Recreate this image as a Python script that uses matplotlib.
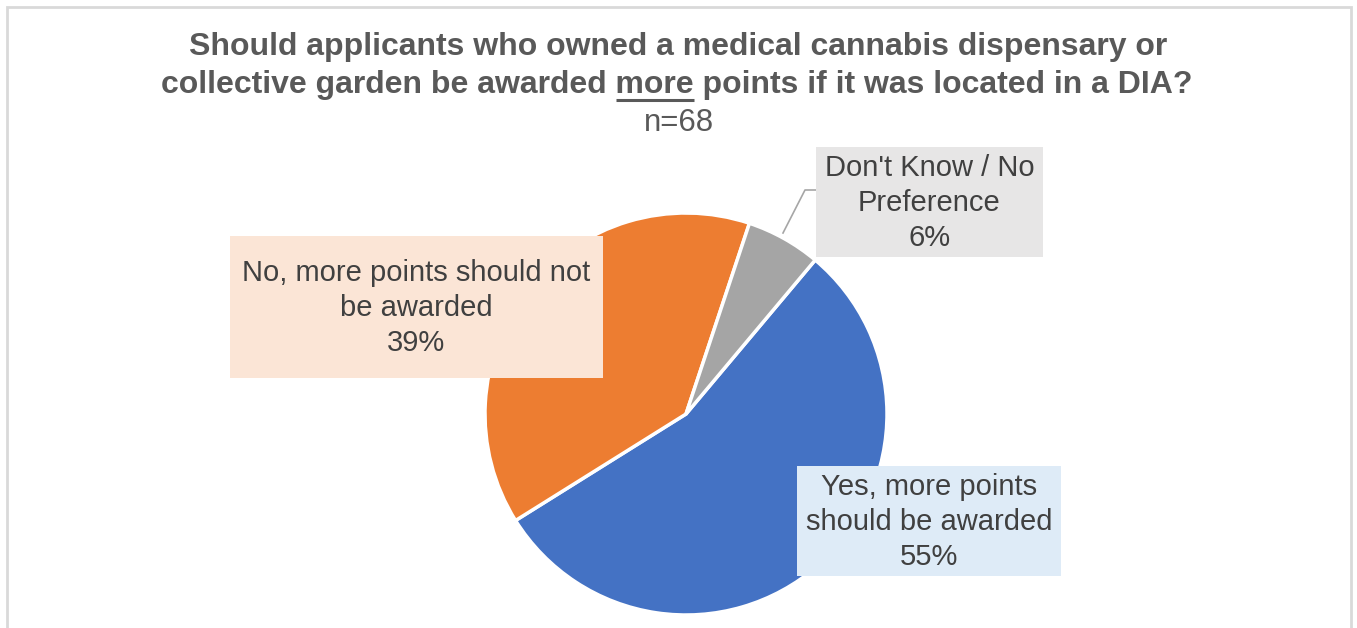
import matplotlib
matplotlib.use("Agg")
import matplotlib.pyplot as plt
from matplotlib.patches import Rectangle

plt.rcParams['font.family'] = ['Liberation Sans', 'DejaVu Sans']

# survey answers and their shares (percent)
categories = ["Yes, more points\nshould be awarded",
              "No, more points should not\nbe awarded",
              "Don't Know / No\nPreference"]
shares = [55, 39, 6]
n_resp = 68

slice_colors = ['#4472C4', '#ED7D31', '#A5A5A5']
box_colors = ['#DEEBF7', '#FBE5D6', '#E7E6E6']

W, H = 1357, 628
fig = plt.figure(figsize=(W / 100, H / 100), dpi=100)
ax = fig.add_axes([0, 0, 1, 1])

# pie in pixel space (y measured upward)
cx, cy, r = 686, H - 414, 201
ax.pie(shares, colors=slice_colors, startangle=50, counterclock=False,
       center=(cx, cy), radius=r,
       wedgeprops=dict(edgecolor='white', linewidth=2.5))
ax.set_xlim(0, W)
ax.set_ylim(0, H)
ax.set_aspect('auto')
ax.axis('off')

# label boxes: left, top, right, bottom in pixels from the top-left corner
boxes = [(797, 466, 1061, 576), (230, 236, 603, 378), (816, 147, 1043, 257)]
for cat, val, fc, (x0, y0, x1, y1) in zip(categories, shares, box_colors, boxes):
    ax.add_patch(Rectangle((x0, H - y1), x1 - x0, y1 - y0, facecolor=fc,
                           edgecolor='none', zorder=3))
    ax.text((x0 + x1) / 2, H - (y0 + y1) / 2 - 1, f"{cat}\n{val}%",
            ha='center', va='center', fontsize=21, color='#404040',
            linespacing=1.32, zorder=4)

# leader line for the small slice
ax.plot([783, 805, 816], [H - 233, H - 190, H - 190], color='#A6A6A6',
        lw=1.2, zorder=2)

# title
tcol = '#595959'
tsize = 23
ax.text(678, H - 55, "Should applicants who owned a medical cannabis dispensary or",
        ha='center', va='baseline', fontsize=tsize, fontweight='bold', color=tcol)
line2 = "collective garden be awarded more points if it was located in a DIA?"
t2 = ax.text(677, H - 93, line2, ha='center', va='baseline', fontsize=tsize,
             fontweight='bold', color=tcol)
ax.text(679, H - 131, f"n={n_resp}", ha='center', va='baseline', fontsize=22.5,
        color=tcol)

# underline the word "more"
renderer = fig.canvas.get_renderer()
full = t2.get_window_extent(renderer)


def text_width(s):
    t = ax.text(0, 0, s, fontsize=tsize, fontweight='bold')
    w = t.get_window_extent(renderer).width
    t.remove()
    return w


pre = "collective garden be awarded"
end_more = full.x0 + text_width(pre + " more")
start_more = end_more - text_width("more")
ax.plot([start_more, end_more], [H - 99.5, H - 99.5], color=tcol, lw=2.2,
        solid_capstyle='butt')

# chart area border
ax.add_patch(Rectangle((6.5, -20), 1344, H - 6.5 + 20, facecolor='none',
                       edgecolor='#D9D9D9', lw=2, zorder=5))

fig.savefig('out.png', dpi=100)
